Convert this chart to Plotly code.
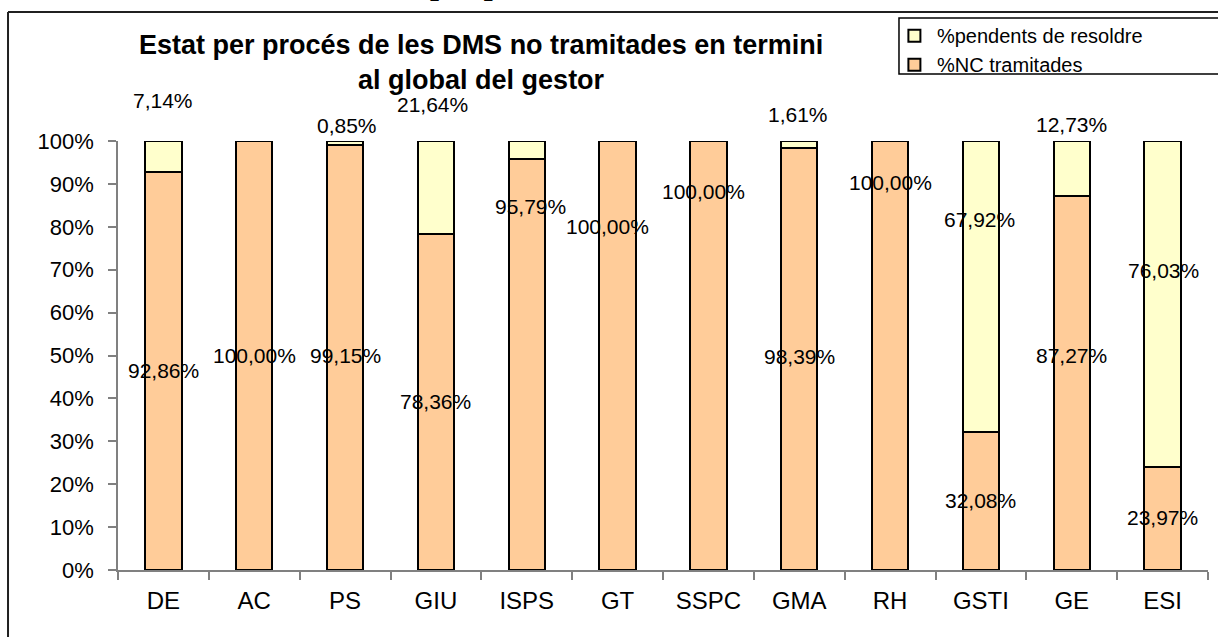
import plotly.graph_objects as go

# ---- data ----
categories = ["DE", "AC", "PS", "GIU", "ISPS", "GT", "SSPC", "GMA", "RH", "GSTI", "GE", "ESI"]
nc_tramitades = [92.86, 100.00, 99.15, 78.36, 95.79, 100.00, 100.00, 98.39, 100.00, 32.08, 87.27, 23.97]
pendents = [7.14, 0.00, 0.85, 21.64, 4.21, 0.00, 0.00, 1.61, 0.00, 67.92, 12.73, 76.03]
pendents_labelled = [True, False, True, True, False, False, False, True, False, True, True, True]
y_ticks = [0, 10, 20, 30, 40, 50, 60, 70, 80, 90, 100]
y_tick_text = [f"{v}%" for v in y_ticks]

# ---- label placement (as in the reference, in axis %) ----
nc_label_y = [46.6, 50.1, 49.9, 39.2, 84.8, 80.0, 88.3, 49.7, 90.4, 16.3, 49.9, 12.2]
nc_label_dx = [0, 0, 0, 0, 4, -10, -5, 0, 0, 0, 0, 0]
pend_label_y = [109.4, 0, 103.7, 108.4, 0, 0, 0, 106.1, 0, 81.8, 103.9, 69.9]
pend_label_dx = [0, 0, 2, -3, 0, 0, 0, -1, 0, -1, 0, 1]

ORANGE = "#FFCC99"
YELLOW = "#FFFFCC"
FONT = "Arial, Liberation Sans, sans-serif"

def fmt(v):
    return f"{v:.2f}".replace(".", ",") + "%"

fig = go.Figure()
fig.add_trace(go.Bar(
    x=categories, y=nc_tramitades, name="%NC tramitades",
    marker=dict(color=ORANGE, line=dict(color="black", width=2)),
    width=0.4,
))
fig.add_trace(go.Bar(
    x=categories, y=pendents, name="%pendents de resoldre",
    marker=dict(color=YELLOW, line=dict(color="black", width=2)),
    width=0.4,
))

annotations = []
for i, c in enumerate(categories):
    annotations.append(dict(
        x=c, y=nc_label_y[i] / 100.0, xref="x", yref="paper", text=fmt(nc_tramitades[i]),
        showarrow=False, xshift=nc_label_dx[i], xanchor="center", yanchor="middle",
        font=dict(family=FONT, size=21, color="black"),
    ))
    if pendents_labelled[i]:
        annotations.append(dict(
            x=c, y=pend_label_y[i] / 100.0, xref="x", yref="paper", text=fmt(pendents[i]),
            showarrow=False, xshift=pend_label_dx[i], xanchor="center", yanchor="middle",
            font=dict(family=FONT, size=21, color="black"),
        ))

# chart title
annotations.append(dict(
    x=0.333, y=1.184, xref="paper", yref="paper",
    text="<b>Estat per procés de les DMS no tramitades en termini<br>al global del gestor</b>",
    showarrow=False, xanchor="center", yanchor="middle",
    font=dict(family=FONT, size=27, color="black"),
))
# clipped heading above the frame
annotations.append(dict(
    x=0.284, y=1.368, xref="paper", yref="paper",
    text="<b>per procés</b>", showarrow=False, xanchor="left", yanchor="middle",
    font=dict(family="Liberation Serif, Times New Roman, serif", size=32, color="black"),
))

shapes = [
    # outer frame
    dict(type="line", xref="paper", yref="paper", x0=-0.1009, x1=1.2, y0=1.3007, y1=1.3007,
         line=dict(color="#202020", width=2)),
    dict(type="line", xref="paper", yref="paper", x0=-0.1009, x1=-0.1009, y0=1.3007, y1=-0.3,
         line=dict(color="#202020", width=2)),
    # legend box
    dict(type="rect", xref="paper", yref="paper", x0=0.7165, x1=1.2, y0=1.1562, y1=1.2867,
         line=dict(color="black", width=1.5), fillcolor="rgba(0,0,0,0)"),
]

fig.update_layout(
    barmode="stack",
    width=1218, height=637,
    margin=dict(l=118, r=10, t=141, b=67),
    paper_bgcolor="white", plot_bgcolor="white",
    showlegend=True,
    legend=dict(
        x=0.710, y=1.291, xanchor="left", yanchor="top",
        traceorder="reversed", itemwidth=35,
        borderwidth=0, bgcolor="rgba(0,0,0,0)",
        font=dict(family=FONT, size=20, color="black"),
        tracegroupgap=0,
    ),
    annotations=annotations,
    shapes=shapes,
    font=dict(family=FONT, color="black"),
)
fig.update_xaxes(
    type="category", range=[-0.5, len(categories) - 0.5],
    showline=True, linecolor="#808080", linewidth=1.5,
    ticks="outside", tickson="boundaries", ticklen=8, tickcolor="#808080", tickwidth=1.5,
    tickfont=dict(family=FONT, size=24, color="black"),
    ticklabelstandoff=8,
    showgrid=False, zeroline=False, fixedrange=True,
)
fig.update_yaxes(
    range=[0, 100], tickvals=y_ticks, ticktext=y_tick_text,
    showline=True, linecolor="#808080", linewidth=1.5,
    ticks="outside", ticklen=8, tickcolor="#808080", tickwidth=1.5,
    tickfont=dict(family=FONT, size=22, color="black"),
    ticklabelstandoff=10,
    showgrid=False, zeroline=False, fixedrange=True,
)

fig.write_html("out.html", config={"displayModeBar": False},
               post_script="document.body.style.margin='0px';")
